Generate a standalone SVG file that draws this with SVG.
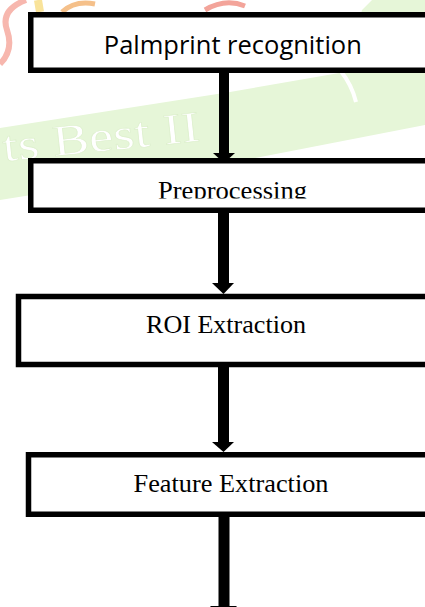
<svg xmlns="http://www.w3.org/2000/svg" width="425" height="607" viewBox="0 0 425 607">
  <style>
    .box { fill: #ffffff; stroke: #000000; stroke-width: 5.5; }
    .sans { font-family: "Open Sans", "Liberation Sans", sans-serif; fill: #000000; }
    .serif { font-family: "Liberation Serif", "Times New Roman", serif; fill: #000000; }
    .shaft { fill: #000000; }
    .head { fill: #000000; }
    .wm-text { font-family: "Liberation Serif", serif; font-size: 44px; fill: #ffffff; stroke: #dcefcb; stroke-width: 0.6; }
  </style>
  <defs>
    <clipPath id="clipPre">
      <rect x="0" y="160" width="425" height="38.5"/>
    </clipPath>
  </defs>
  <rect x="0" y="0" width="425" height="607" fill="#ffffff"/>
  <g id="watermark">
    <polygon points="0,128 230,92 345,72 362,10 372,0 425,0 425,125 220,165 0,200" fill="#e6f6d8"/>
    <path d="M 340 70 Q 352 85 356 102" fill="none" stroke="#ffffff" stroke-width="4"/>
    <text class="wm-text" x="4" y="162" transform="rotate(-6 0 162)" textLength="198" lengthAdjust="spacingAndGlyphs">ts Best II</text>
    <path d="M 26 0 Q 0 10 7 30 Q 14 50 0 64" fill="none" stroke="#f7b7ae" stroke-width="6"/>
    <path d="M 38 0 L 40 12" fill="none" stroke="#f9e39a" stroke-width="8"/>
    <path d="M 62 12 Q 75 0 95 4" fill="none" stroke="#f5c08a" stroke-width="5"/>
    <path d="M 205 10 Q 225 -2 245 6" fill="none" stroke="#f3a49a" stroke-width="5"/>
  </g>
  <g id="connectors">
    <rect class="shaft" x="219" y="73" width="10" height="81"/>
    <polygon class="head" points="213,153 235,153 224,163"/>
    <rect class="shaft" x="218" y="213" width="11" height="71"/>
    <polygon class="head" points="212,283 234,283 223.5,294"/>
    <rect class="shaft" x="218" y="367" width="11" height="76"/>
    <polygon class="head" points="212,442 234,442 223.5,452"/>
    <rect class="shaft" x="218.5" y="517" width="11" height="90"/>
    <polygon class="head" points="210,606 237,606 223.5,620"/>
  </g>
  <g id="node-palmprint">
    <rect class="box" x="30.75" y="14.75" width="420" height="55.5"/>
    <text class="sans" x="232.8" y="54" font-size="25" text-anchor="middle" textLength="258" lengthAdjust="spacingAndGlyphs">Palmprint recognition</text>
  </g>
  <g id="node-preprocessing">
    <rect class="box" x="30.75" y="160.75" width="420" height="49.5"/>
    <text class="serif" x="232.5" y="199" font-size="26" text-anchor="middle" textLength="149" lengthAdjust="spacingAndGlyphs" clip-path="url(#clipPre)">Preprocessing</text>
  </g>
  <g id="node-roi">
    <rect class="box" x="18.5" y="296.5" width="420" height="68"/>
    <text class="serif" x="226" y="333" font-size="24.5" text-anchor="middle" textLength="160" lengthAdjust="spacingAndGlyphs">ROI Extraction</text>
  </g>
  <g id="node-feature">
    <rect class="box" x="28.5" y="454.75" width="420" height="59.5"/>
    <text class="serif" x="231" y="492" font-size="26" text-anchor="middle" textLength="195" lengthAdjust="spacingAndGlyphs">Feature Extraction</text>
  </g>
</svg>
